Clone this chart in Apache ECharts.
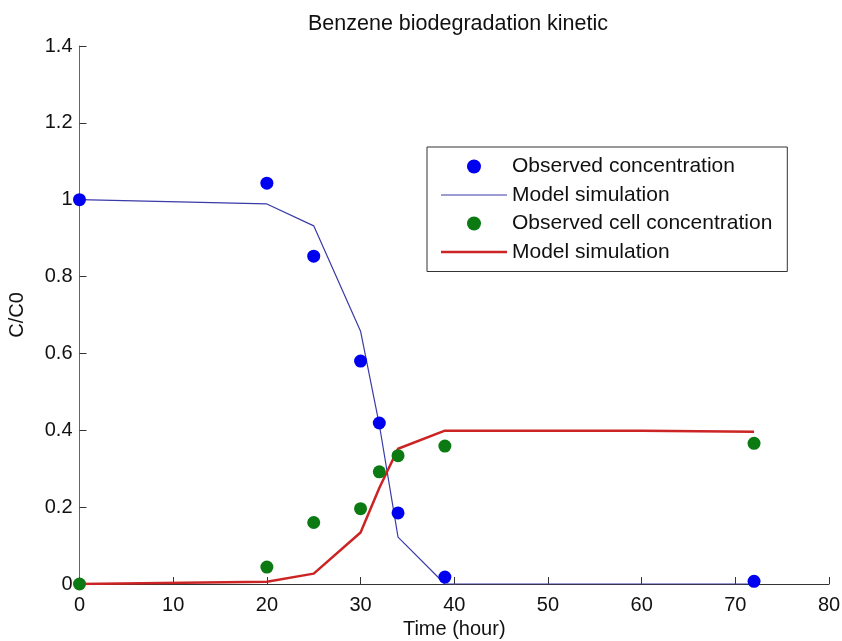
<!DOCTYPE html>
<html>
<head>
<meta charset="utf-8">
<script src="https://cdn.jsdelivr.net/npm/echarts@6/dist/echarts.min.js"></script>
<style>html,body{margin:0;padding:0;background:#fff;}#c{width:842px;height:641px;}</style>
</head>
<body>
<div id="c"></div>
<script>
const titleText = "Benzene biodegradation kinetic";
const xName = "Time (hour)";
const yName = "C/C0";
const xTicks = { min: 0, max: 80, interval: 10 };
const yTicks = { min: 0, max: 1.4, interval: 0.2 };

const obsTime = [0, 20, 25, 30, 32, 34, 39, 72];
const obsConc = [1.0, 1.043, 0.853, 0.58, 0.419, 0.185, 0.018, 0.007];
const obsCell = [0, 0.044, 0.16, 0.196, 0.292, 0.334, 0.359, 0.366];

const modelTime = [0, 20, 25, 30, 32, 34, 39, 60, 72];
const modelConc = [1.0, 0.989, 0.932, 0.658, 0.415, 0.122, 0.0, 0.0, 0.0];
const modelCell = [0, 0.006, 0.027, 0.134, 0.25, 0.352, 0.399, 0.399, 0.396];

const legendNames = ["Observed concentration", "Model simulation", "Observed cell concentration", "Model simulation "];

const zip = (xs, ys) => xs.map((x, i) => [x, ys[i]]);
const font = "'Liberation Sans', Arial, Helvetica, sans-serif";

const chart = echarts.init(document.getElementById('c'));
chart.setOption({
  animation: false,
  backgroundColor: '#fff',
  title: {
    text: titleText, left: 453, top: 8, textAlign: 'center',
    textStyle: { fontFamily: font, fontSize: 21.5, fontWeight: 'normal', color: '#111' }
  },
  grid: { left: 79.5, right: 13, top: 46, bottom: 57, containLabel: false, outerBoundsMode: 'none' },
  legend: {
    orient: 'vertical', left: 427, top: 147,
    padding: [9, 15, 9, 14], itemGap: 7.5,
    itemWidth: 66, itemHeight: 14,
    borderColor: '#333', borderWidth: 1, backgroundColor: '#fff',
    textStyle: { fontFamily: font, fontSize: 21, color: '#111' },
    data: [
      { name: legendNames[0], icon: 'circle' },
      { name: legendNames[1], icon: 'path://M0,0 H100 V1.6 H0 Z', itemStyle: { color: '#3a3aa8' } },
      { name: legendNames[2], icon: 'circle' },
      { name: legendNames[3], icon: 'path://M0,0 H100 V3.6 H0 Z', itemStyle: { color: '#cc2424' } }
    ]
  },
  xAxis: {
    type: 'value', min: xTicks.min, max: xTicks.max, interval: xTicks.interval,
    name: xName, nameLocation: 'middle', nameGap: 35,
    nameTextStyle: { fontFamily: font, fontSize: 20, color: '#111' },
    axisLine: { show: true, lineStyle: { color: '#333', width: 1 } },
    axisTick: { show: true, inside: true, length: 7, lineStyle: { color: '#333' } },
    axisLabel: { fontFamily: font, fontSize: 20, color: '#111', margin: 11 },
    splitLine: { show: false }
  },
  yAxis: {
    type: 'value', min: yTicks.min, max: yTicks.max, interval: yTicks.interval,
    name: yName, nameLocation: 'middle', nameGap: 52, nameRotate: 90,
    nameTextStyle: { fontFamily: font, fontSize: 20, color: '#111' },
    axisLine: { show: true, lineStyle: { color: '#666', width: 1 } },
    axisTick: { show: true, inside: true, length: 7, lineStyle: { color: '#333' } },
    axisLabel: { fontFamily: font, fontSize: 20, color: '#111', margin: 7 },
    splitLine: { show: false }
  },
  series: [
    {
      name: legendNames[1], type: 'line', data: zip(modelTime, modelConc),
      symbol: 'none', lineStyle: { color: '#3a3aa8', width: 1.2 }, itemStyle: { color: '#3a3aa8' }, z: 2
    },
    {
      name: legendNames[3], type: 'line', data: zip(modelTime, modelCell),
      symbol: 'none', lineStyle: { color: '#cc2424', width: 2.5 }, itemStyle: { color: '#cc2424' }, z: 2
    },
    {
      name: legendNames[0], type: 'scatter', data: zip(obsTime, obsConc),
      symbol: 'circle', symbolSize: 13, itemStyle: { color: '#0000f0', opacity: 1 }, z: 3
    },
    {
      name: legendNames[2], type: 'scatter', data: zip(obsTime, obsCell),
      symbol: 'circle', symbolSize: 13, itemStyle: { color: '#0b7a12', opacity: 1 }, z: 3
    }
  ]
});
</script>
</body>
</html>
